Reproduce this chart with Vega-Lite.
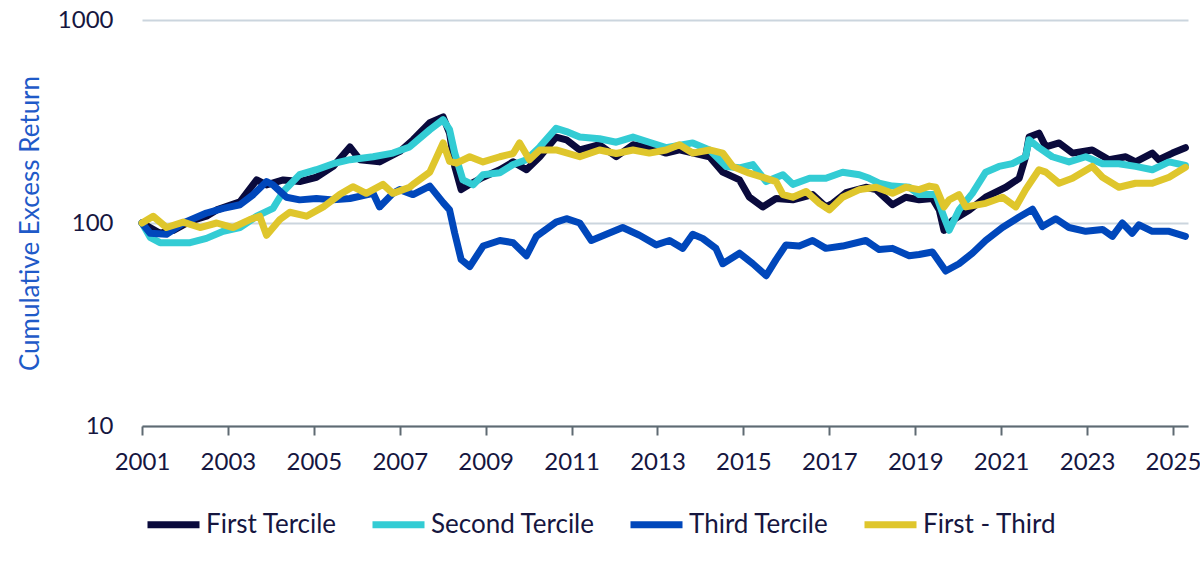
{
  "$schema": "https://vega.github.io/schema/vega-lite/v6.json",
  "width": 1046,
  "height": 406,
  "autosize": {"type": "none"},
  "padding": {"left": 142, "top": 20, "right": 12, "bottom": 139},
  "config": {"view": {"stroke": null}, "font": "Lato"},
  "data": {
    "values": [
      {"series": "First Tercile", "year": 2001.0, "value": 100},
      {"series": "First Tercile", "year": 2001.42, "value": 89},
      {"series": "First Tercile", "year": 2001.73, "value": 92},
      {"series": "First Tercile", "year": 2002.12, "value": 102},
      {"series": "First Tercile", "year": 2002.5, "value": 108},
      {"series": "First Tercile", "year": 2002.74, "value": 116},
      {"series": "First Tercile", "year": 2003.28, "value": 127},
      {"series": "First Tercile", "year": 2003.67, "value": 163},
      {"series": "First Tercile", "year": 2003.9, "value": 154},
      {"series": "First Tercile", "year": 2004.29, "value": 163},
      {"series": "First Tercile", "year": 2004.67, "value": 160},
      {"series": "First Tercile", "year": 2005.06, "value": 168},
      {"series": "First Tercile", "year": 2005.45, "value": 190},
      {"series": "First Tercile", "year": 2005.84, "value": 237},
      {"series": "First Tercile", "year": 2006.07, "value": 205},
      {"series": "First Tercile", "year": 2006.53, "value": 200},
      {"series": "First Tercile", "year": 2007.0, "value": 225},
      {"series": "First Tercile", "year": 2007.31, "value": 257},
      {"series": "First Tercile", "year": 2007.7, "value": 312},
      {"series": "First Tercile", "year": 2008.01, "value": 333},
      {"series": "First Tercile", "year": 2008.16, "value": 277},
      {"series": "First Tercile", "year": 2008.28, "value": 190},
      {"series": "First Tercile", "year": 2008.43, "value": 146},
      {"series": "First Tercile", "year": 2008.63, "value": 155},
      {"series": "First Tercile", "year": 2008.94, "value": 168},
      {"series": "First Tercile", "year": 2009.33, "value": 183},
      {"series": "First Tercile", "year": 2009.64, "value": 200},
      {"series": "First Tercile", "year": 2009.95, "value": 183},
      {"series": "First Tercile", "year": 2010.26, "value": 212},
      {"series": "First Tercile", "year": 2010.64, "value": 265},
      {"series": "First Tercile", "year": 2010.88, "value": 257},
      {"series": "First Tercile", "year": 2011.19, "value": 229},
      {"series": "First Tercile", "year": 2011.65, "value": 243},
      {"series": "First Tercile", "year": 2012.04, "value": 212},
      {"series": "First Tercile", "year": 2012.43, "value": 243},
      {"series": "First Tercile", "year": 2012.81, "value": 235},
      {"series": "First Tercile", "year": 2013.2, "value": 221},
      {"series": "First Tercile", "year": 2013.51, "value": 229},
      {"series": "First Tercile", "year": 2014.21, "value": 212},
      {"series": "First Tercile", "year": 2014.52, "value": 178},
      {"series": "First Tercile", "year": 2014.91, "value": 163},
      {"series": "First Tercile", "year": 2015.14, "value": 134},
      {"series": "First Tercile", "year": 2015.45, "value": 120},
      {"series": "First Tercile", "year": 2015.76, "value": 132},
      {"series": "First Tercile", "year": 2016.15, "value": 130},
      {"series": "First Tercile", "year": 2016.61, "value": 138},
      {"series": "First Tercile", "year": 2016.92, "value": 120},
      {"series": "First Tercile", "year": 2017.08, "value": 125},
      {"series": "First Tercile", "year": 2017.39, "value": 141},
      {"series": "First Tercile", "year": 2017.85, "value": 150},
      {"series": "First Tercile", "year": 2018.09, "value": 146},
      {"series": "First Tercile", "year": 2018.47, "value": 123},
      {"series": "First Tercile", "year": 2018.78, "value": 134},
      {"series": "First Tercile", "year": 2019.09, "value": 130},
      {"series": "First Tercile", "year": 2019.4, "value": 132},
      {"series": "First Tercile", "year": 2019.56, "value": 116},
      {"series": "First Tercile", "year": 2019.67, "value": 92},
      {"series": "First Tercile", "year": 2019.87, "value": 103},
      {"series": "First Tercile", "year": 2020.26, "value": 116},
      {"series": "First Tercile", "year": 2020.64, "value": 134},
      {"series": "First Tercile", "year": 2021.11, "value": 150},
      {"series": "First Tercile", "year": 2021.42, "value": 166},
      {"series": "First Tercile", "year": 2021.57, "value": 212},
      {"series": "First Tercile", "year": 2021.65, "value": 265},
      {"series": "First Tercile", "year": 2021.88, "value": 277},
      {"series": "First Tercile", "year": 2022.04, "value": 237},
      {"series": "First Tercile", "year": 2022.35, "value": 248},
      {"series": "First Tercile", "year": 2022.66, "value": 221},
      {"series": "First Tercile", "year": 2023.12, "value": 229},
      {"series": "First Tercile", "year": 2023.51, "value": 205},
      {"series": "First Tercile", "year": 2023.9, "value": 212},
      {"series": "First Tercile", "year": 2024.13, "value": 200},
      {"series": "First Tercile", "year": 2024.52, "value": 221},
      {"series": "First Tercile", "year": 2024.67, "value": 205},
      {"series": "First Tercile", "year": 2024.99, "value": 221},
      {"series": "First Tercile", "year": 2025.29, "value": 235},

      {"series": "Second Tercile", "year": 2001.0, "value": 100},
      {"series": "Second Tercile", "year": 2001.19, "value": 85},
      {"series": "Second Tercile", "year": 2001.42, "value": 80},
      {"series": "Second Tercile", "year": 2001.73, "value": 80},
      {"series": "Second Tercile", "year": 2002.12, "value": 80},
      {"series": "Second Tercile", "year": 2002.5, "value": 84},
      {"series": "Second Tercile", "year": 2002.89, "value": 91},
      {"series": "Second Tercile", "year": 2003.28, "value": 95},
      {"series": "Second Tercile", "year": 2003.67, "value": 108},
      {"series": "Second Tercile", "year": 2004.05, "value": 118},
      {"series": "Second Tercile", "year": 2004.29, "value": 143},
      {"series": "Second Tercile", "year": 2004.67, "value": 173},
      {"series": "Second Tercile", "year": 2005.06, "value": 183},
      {"series": "Second Tercile", "year": 2005.45, "value": 196},
      {"series": "Second Tercile", "year": 2005.84, "value": 205},
      {"series": "Second Tercile", "year": 2006.38, "value": 212},
      {"series": "Second Tercile", "year": 2006.84, "value": 221},
      {"series": "Second Tercile", "year": 2007.23, "value": 237},
      {"series": "Second Tercile", "year": 2007.7, "value": 288},
      {"series": "Second Tercile", "year": 2008.01, "value": 323},
      {"series": "Second Tercile", "year": 2008.16, "value": 288},
      {"series": "Second Tercile", "year": 2008.28, "value": 221},
      {"series": "Second Tercile", "year": 2008.47, "value": 163},
      {"series": "Second Tercile", "year": 2008.71, "value": 154},
      {"series": "Second Tercile", "year": 2008.94, "value": 173},
      {"series": "Second Tercile", "year": 2009.33, "value": 177},
      {"series": "Second Tercile", "year": 2009.64, "value": 194},
      {"series": "Second Tercile", "year": 2009.95, "value": 205},
      {"series": "Second Tercile", "year": 2010.26, "value": 237},
      {"series": "Second Tercile", "year": 2010.64, "value": 293},
      {"series": "Second Tercile", "year": 2010.88, "value": 282},
      {"series": "Second Tercile", "year": 2011.19, "value": 265},
      {"series": "Second Tercile", "year": 2011.65, "value": 260},
      {"series": "Second Tercile", "year": 2012.04, "value": 250},
      {"series": "Second Tercile", "year": 2012.43, "value": 265},
      {"series": "Second Tercile", "year": 2012.81, "value": 250},
      {"series": "Second Tercile", "year": 2013.2, "value": 235},
      {"series": "Second Tercile", "year": 2013.82, "value": 248},
      {"series": "Second Tercile", "year": 2014.21, "value": 229},
      {"series": "Second Tercile", "year": 2014.6, "value": 190},
      {"series": "Second Tercile", "year": 2014.91, "value": 187},
      {"series": "Second Tercile", "year": 2015.22, "value": 194},
      {"series": "Second Tercile", "year": 2015.53, "value": 160},
      {"series": "Second Tercile", "year": 2015.92, "value": 173},
      {"series": "Second Tercile", "year": 2016.15, "value": 155},
      {"series": "Second Tercile", "year": 2016.54, "value": 166},
      {"series": "Second Tercile", "year": 2016.92, "value": 166},
      {"series": "Second Tercile", "year": 2017.31, "value": 178},
      {"series": "Second Tercile", "year": 2017.7, "value": 173},
      {"series": "Second Tercile", "year": 2017.93, "value": 166},
      {"series": "Second Tercile", "year": 2018.16, "value": 157},
      {"series": "Second Tercile", "year": 2018.47, "value": 152},
      {"series": "Second Tercile", "year": 2018.86, "value": 150},
      {"series": "Second Tercile", "year": 2019.09, "value": 138},
      {"series": "Second Tercile", "year": 2019.48, "value": 138},
      {"series": "Second Tercile", "year": 2019.67, "value": 107},
      {"series": "Second Tercile", "year": 2019.79, "value": 92},
      {"series": "Second Tercile", "year": 2020.02, "value": 116},
      {"series": "Second Tercile", "year": 2020.33, "value": 140},
      {"series": "Second Tercile", "year": 2020.64, "value": 178},
      {"series": "Second Tercile", "year": 2020.95, "value": 190},
      {"series": "Second Tercile", "year": 2021.26, "value": 196},
      {"series": "Second Tercile", "year": 2021.57, "value": 212},
      {"series": "Second Tercile", "year": 2021.65, "value": 257},
      {"series": "Second Tercile", "year": 2021.88, "value": 235},
      {"series": "Second Tercile", "year": 2022.19, "value": 212},
      {"series": "Second Tercile", "year": 2022.58, "value": 200},
      {"series": "Second Tercile", "year": 2022.97, "value": 212},
      {"series": "Second Tercile", "year": 2023.36, "value": 196},
      {"series": "Second Tercile", "year": 2023.74, "value": 196},
      {"series": "Second Tercile", "year": 2024.13, "value": 190},
      {"series": "Second Tercile", "year": 2024.52, "value": 183},
      {"series": "Second Tercile", "year": 2024.91, "value": 200},
      {"series": "Second Tercile", "year": 2025.29, "value": 192},

      {"series": "Third Tercile", "year": 2001.0, "value": 100},
      {"series": "Third Tercile", "year": 2001.19, "value": 89},
      {"series": "Third Tercile", "year": 2001.57, "value": 88},
      {"series": "Third Tercile", "year": 2001.96, "value": 100},
      {"series": "Third Tercile", "year": 2002.5, "value": 112},
      {"series": "Third Tercile", "year": 2002.89, "value": 118},
      {"series": "Third Tercile", "year": 2003.28, "value": 123},
      {"series": "Third Tercile", "year": 2003.59, "value": 138},
      {"series": "Third Tercile", "year": 2003.9, "value": 160},
      {"series": "Third Tercile", "year": 2004.05, "value": 154},
      {"series": "Third Tercile", "year": 2004.36, "value": 134},
      {"series": "Third Tercile", "year": 2004.67, "value": 130},
      {"series": "Third Tercile", "year": 2005.06, "value": 132},
      {"series": "Third Tercile", "year": 2005.45, "value": 130},
      {"series": "Third Tercile", "year": 2005.84, "value": 132},
      {"series": "Third Tercile", "year": 2006.38, "value": 140},
      {"series": "Third Tercile", "year": 2006.53, "value": 120},
      {"series": "Third Tercile", "year": 2006.84, "value": 140},
      {"series": "Third Tercile", "year": 2007.0, "value": 146},
      {"series": "Third Tercile", "year": 2007.31, "value": 138},
      {"series": "Third Tercile", "year": 2007.7, "value": 152},
      {"series": "Third Tercile", "year": 2008.01, "value": 126},
      {"series": "Third Tercile", "year": 2008.16, "value": 116},
      {"series": "Third Tercile", "year": 2008.28, "value": 89},
      {"series": "Third Tercile", "year": 2008.43, "value": 66},
      {"series": "Third Tercile", "year": 2008.63, "value": 61},
      {"series": "Third Tercile", "year": 2008.94, "value": 77},
      {"series": "Third Tercile", "year": 2009.33, "value": 82},
      {"series": "Third Tercile", "year": 2009.64, "value": 80},
      {"series": "Third Tercile", "year": 2009.95, "value": 69},
      {"series": "Third Tercile", "year": 2010.18, "value": 86},
      {"series": "Third Tercile", "year": 2010.64, "value": 101},
      {"series": "Third Tercile", "year": 2010.88, "value": 105},
      {"series": "Third Tercile", "year": 2011.19, "value": 100},
      {"series": "Third Tercile", "year": 2011.46, "value": 82},
      {"series": "Third Tercile", "year": 2011.81, "value": 88},
      {"series": "Third Tercile", "year": 2012.19, "value": 95},
      {"series": "Third Tercile", "year": 2012.58, "value": 87},
      {"series": "Third Tercile", "year": 2012.97, "value": 78},
      {"series": "Third Tercile", "year": 2013.28, "value": 82},
      {"series": "Third Tercile", "year": 2013.59, "value": 75},
      {"series": "Third Tercile", "year": 2013.82, "value": 88},
      {"series": "Third Tercile", "year": 2014.05, "value": 84},
      {"series": "Third Tercile", "year": 2014.36, "value": 75},
      {"series": "Third Tercile", "year": 2014.52, "value": 63},
      {"series": "Third Tercile", "year": 2014.91, "value": 71},
      {"series": "Third Tercile", "year": 2015.22, "value": 63},
      {"series": "Third Tercile", "year": 2015.53, "value": 55},
      {"series": "Third Tercile", "year": 2015.76, "value": 66},
      {"series": "Third Tercile", "year": 2015.99, "value": 78},
      {"series": "Third Tercile", "year": 2016.3, "value": 77},
      {"series": "Third Tercile", "year": 2016.61, "value": 82},
      {"series": "Third Tercile", "year": 2016.92, "value": 75},
      {"series": "Third Tercile", "year": 2017.31, "value": 77},
      {"series": "Third Tercile", "year": 2017.85, "value": 82},
      {"series": "Third Tercile", "year": 2018.16, "value": 74},
      {"series": "Third Tercile", "year": 2018.47, "value": 75},
      {"series": "Third Tercile", "year": 2018.86, "value": 69},
      {"series": "Third Tercile", "year": 2019.09, "value": 70},
      {"series": "Third Tercile", "year": 2019.4, "value": 72},
      {"series": "Third Tercile", "year": 2019.71, "value": 58},
      {"series": "Third Tercile", "year": 2020.02, "value": 63},
      {"series": "Third Tercile", "year": 2020.33, "value": 71},
      {"series": "Third Tercile", "year": 2020.64, "value": 82},
      {"series": "Third Tercile", "year": 2021.03, "value": 95},
      {"series": "Third Tercile", "year": 2021.42, "value": 107},
      {"series": "Third Tercile", "year": 2021.73, "value": 117},
      {"series": "Third Tercile", "year": 2021.96, "value": 96},
      {"series": "Third Tercile", "year": 2022.27, "value": 105},
      {"series": "Third Tercile", "year": 2022.58, "value": 95},
      {"series": "Third Tercile", "year": 2022.97, "value": 91},
      {"series": "Third Tercile", "year": 2023.36, "value": 93},
      {"series": "Third Tercile", "year": 2023.59, "value": 86},
      {"series": "Third Tercile", "year": 2023.82, "value": 100},
      {"series": "Third Tercile", "year": 2024.05, "value": 89},
      {"series": "Third Tercile", "year": 2024.21, "value": 98},
      {"series": "Third Tercile", "year": 2024.52, "value": 91},
      {"series": "Third Tercile", "year": 2024.91, "value": 91},
      {"series": "Third Tercile", "year": 2025.29, "value": 86},

      {"series": "First - Third", "year": 2001.0, "value": 100},
      {"series": "First - Third", "year": 2001.26, "value": 108},
      {"series": "First - Third", "year": 2001.57, "value": 95},
      {"series": "First - Third", "year": 2001.96, "value": 101},
      {"series": "First - Third", "year": 2002.35, "value": 95},
      {"series": "First - Third", "year": 2002.74, "value": 100},
      {"series": "First - Third", "year": 2003.12, "value": 95},
      {"series": "First - Third", "year": 2003.51, "value": 104},
      {"series": "First - Third", "year": 2003.74, "value": 108},
      {"series": "First - Third", "year": 2003.9, "value": 87},
      {"series": "First - Third", "year": 2004.21, "value": 104},
      {"series": "First - Third", "year": 2004.44, "value": 113},
      {"series": "First - Third", "year": 2004.83, "value": 108},
      {"series": "First - Third", "year": 2005.22, "value": 120},
      {"series": "First - Third", "year": 2005.6, "value": 138},
      {"series": "First - Third", "year": 2005.91, "value": 151},
      {"series": "First - Third", "year": 2006.22, "value": 140},
      {"series": "First - Third", "year": 2006.61, "value": 155},
      {"series": "First - Third", "year": 2006.84, "value": 140},
      {"series": "First - Third", "year": 2007.23, "value": 150},
      {"series": "First - Third", "year": 2007.31, "value": 155},
      {"series": "First - Third", "year": 2007.7, "value": 178},
      {"series": "First - Third", "year": 2008.01, "value": 248},
      {"series": "First - Third", "year": 2008.16, "value": 201},
      {"series": "First - Third", "year": 2008.32, "value": 197},
      {"series": "First - Third", "year": 2008.63, "value": 212},
      {"series": "First - Third", "year": 2008.94, "value": 200},
      {"series": "First - Third", "year": 2009.33, "value": 212},
      {"series": "First - Third", "year": 2009.64, "value": 220},
      {"series": "First - Third", "year": 2009.79, "value": 248},
      {"series": "First - Third", "year": 2010.02, "value": 205},
      {"series": "First - Third", "year": 2010.26, "value": 229},
      {"series": "First - Third", "year": 2010.64, "value": 229},
      {"series": "First - Third", "year": 2011.19, "value": 212},
      {"series": "First - Third", "year": 2011.65, "value": 229},
      {"series": "First - Third", "year": 2012.04, "value": 220},
      {"series": "First - Third", "year": 2012.43, "value": 229},
      {"series": "First - Third", "year": 2012.81, "value": 221},
      {"series": "First - Third", "year": 2013.2, "value": 229},
      {"series": "First - Third", "year": 2013.51, "value": 243},
      {"series": "First - Third", "year": 2013.82, "value": 221},
      {"series": "First - Third", "year": 2014.21, "value": 229},
      {"series": "First - Third", "year": 2014.52, "value": 221},
      {"series": "First - Third", "year": 2014.75, "value": 190},
      {"series": "First - Third", "year": 2015.14, "value": 176},
      {"series": "First - Third", "year": 2015.53, "value": 166},
      {"series": "First - Third", "year": 2015.76, "value": 160},
      {"series": "First - Third", "year": 2015.92, "value": 138},
      {"series": "First - Third", "year": 2016.15, "value": 134},
      {"series": "First - Third", "year": 2016.46, "value": 143},
      {"series": "First - Third", "year": 2016.77, "value": 125},
      {"series": "First - Third", "year": 2017.0, "value": 116},
      {"series": "First - Third", "year": 2017.31, "value": 134},
      {"series": "First - Third", "year": 2017.7, "value": 146},
      {"series": "First - Third", "year": 2018.09, "value": 150},
      {"series": "First - Third", "year": 2018.47, "value": 140},
      {"series": "First - Third", "year": 2018.78, "value": 150},
      {"series": "First - Third", "year": 2019.09, "value": 146},
      {"series": "First - Third", "year": 2019.33, "value": 152},
      {"series": "First - Third", "year": 2019.48, "value": 150},
      {"series": "First - Third", "year": 2019.67, "value": 120},
      {"series": "First - Third", "year": 2019.79, "value": 130},
      {"series": "First - Third", "year": 2020.02, "value": 138},
      {"series": "First - Third", "year": 2020.18, "value": 120},
      {"series": "First - Third", "year": 2020.64, "value": 125},
      {"series": "First - Third", "year": 2021.03, "value": 134},
      {"series": "First - Third", "year": 2021.34, "value": 120},
      {"series": "First - Third", "year": 2021.57, "value": 146},
      {"series": "First - Third", "year": 2021.88, "value": 183},
      {"series": "First - Third", "year": 2022.04, "value": 178},
      {"series": "First - Third", "year": 2022.35, "value": 157},
      {"series": "First - Third", "year": 2022.66, "value": 166},
      {"series": "First - Third", "year": 2023.12, "value": 190},
      {"series": "First - Third", "year": 2023.36, "value": 168},
      {"series": "First - Third", "year": 2023.74, "value": 150},
      {"series": "First - Third", "year": 2024.13, "value": 157},
      {"series": "First - Third", "year": 2024.52, "value": 157},
      {"series": "First - Third", "year": 2024.91, "value": 168},
      {"series": "First - Third", "year": 2025.29, "value": 188}
    ]
  },
  "mark": {"type": "line", "strokeWidth": 7, "strokeJoin": "round", "strokeCap": "round"},
  "encoding": {
    "x": {
      "field": "year",
      "type": "quantitative",
      "scale": {"domain": [2001, 2025.35], "nice": false, "zero": false},
      "axis": {
        "values": [2001, 2003, 2005, 2007, 2009, 2011, 2013, 2015, 2017, 2019, 2021, 2023, 2025],
        "format": "d",
        "title": null,
        "grid": false,
        "labelFlush": false,
        "domainColor": "#5f6a72",
        "domainWidth": 2,
        "tickColor": "#5f6a72",
        "tickWidth": 2,
        "tickSize": 9,
        "labelFontSize": 24,
        "labelColor": "#16163f",
        "labelPadding": 15
      }
    },
    "y": {
      "field": "value",
      "type": "quantitative",
      "scale": {"type": "log", "domain": [10, 1000]},
      "axis": {
        "values": [10, 100, 1000],
        "format": "d",
        "title": "Cumulative Excess Return",
        "titleColor": "#1f5ac8",
        "titleFontSize": 26,
        "titleFontWeight": "normal",
        "titlePadding": 14,
        "domain": false,
        "ticks": false,
        "tickSize": 0,
        "gridColor": "#cbd5de",
        "gridWidth": 2,
        "labelFontSize": 24,
        "labelColor": "#16163f",
        "labelPadding": 29
      }
    },
    "color": {
      "field": "series",
      "type": "nominal",
      "scale": {
        "domain": ["First Tercile", "Second Tercile", "Third Tercile", "First - Third"],
        "range": ["#0a0a3c", "#33ccd4", "#0047bb", "#dfc62c"]
      },
      "legend": {
        "title": null,
        "orient": "none",
        "direction": "horizontal",
        "columns": 4,
        "legendX": 2,
        "legendY": 475,
        "symbolType": "stroke",
        "symbolSize": 2704,
        "symbolStrokeWidth": 7,
        "labelFontSize": 26,
        "labelLimit": 400,
        "labelColor": "#16163f",
        "labelOffset": 3,
        "columnPadding": 21
      }
    }
  }
}
